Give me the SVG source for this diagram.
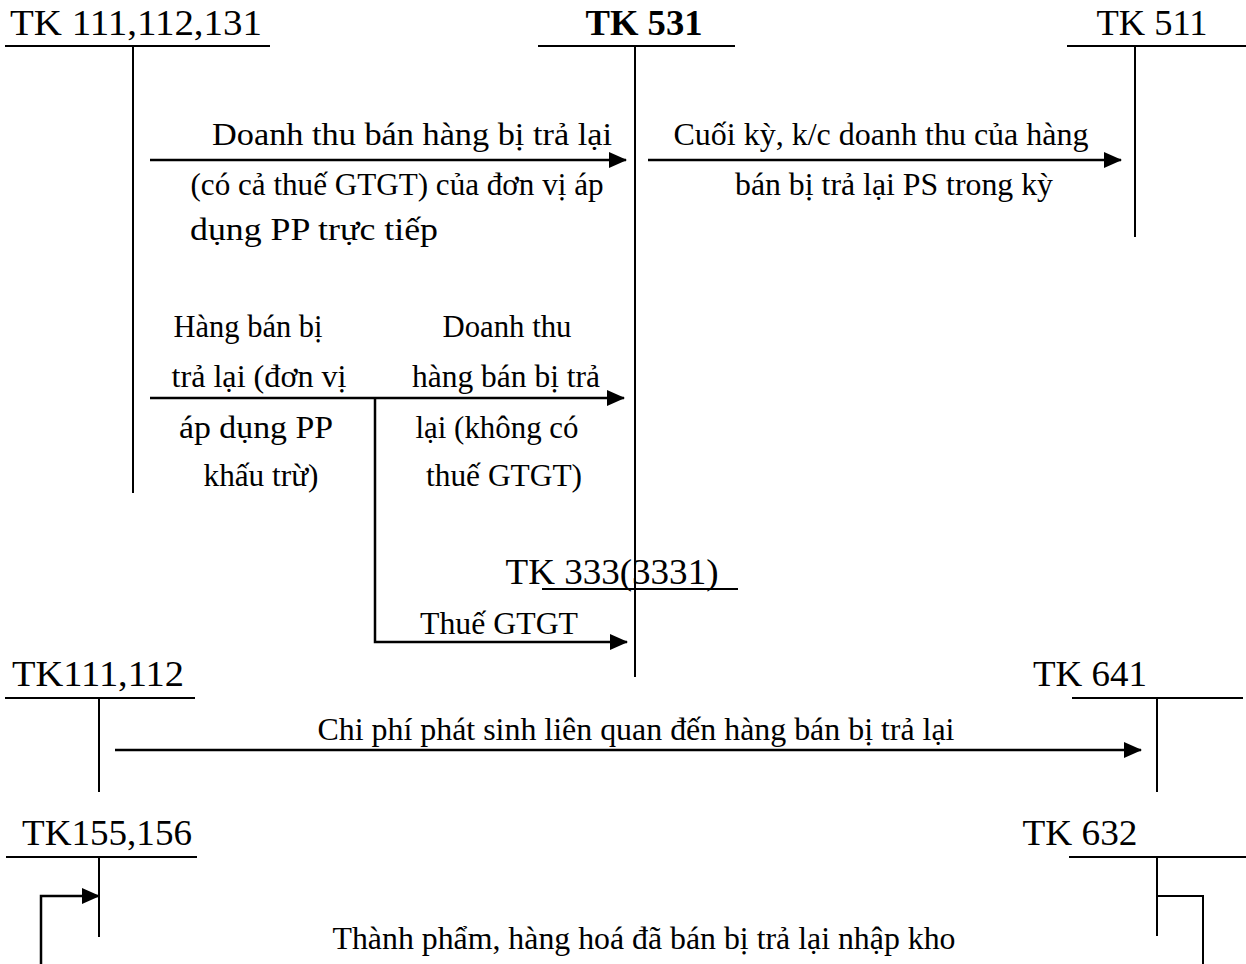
<svg xmlns="http://www.w3.org/2000/svg" width="1246" height="964" viewBox="0 0 1246 964">
<style>
text{font-family:"Liberation Serif","Times New Roman",serif;fill:#000;text-anchor:middle}
.t{font-size:36px}
.b{font-size:31px}
.tb{font-size:36px;font-weight:bold}
.ln{stroke:#000;stroke-width:2;fill:none}
.ar{stroke:#000;stroke-width:2.5;fill:none}
</style>
<defs>
<marker id="ah" markerUnits="userSpaceOnUse" markerWidth="18" markerHeight="16" refX="17" refY="8" orient="auto">
<path d="M0,0 L18,8 L0,16 Z" fill="#000"/>
</marker>
</defs>
<rect width="1246" height="964" fill="#fff"/>
<g id="tk111_112_131">
<line class="ln" x1="5" y1="46" x2="270" y2="46"/>
<line class="ln" x1="133" y1="46" x2="133" y2="493"/>
<text class="t" x="136" y="35" textLength="252" lengthAdjust="spacingAndGlyphs">TK 111,112,131</text>
</g>
<g id="tk531">
<line class="ln" x1="538" y1="46" x2="735" y2="46"/>
<line class="ln" x1="635" y1="46" x2="635" y2="677"/>
<text class="tb" x="644" y="35" textLength="117" lengthAdjust="spacingAndGlyphs">TK 531</text>
</g>
<g id="tk511">
<line class="ln" x1="1067" y1="46" x2="1246" y2="46"/>
<line class="ln" x1="1135" y1="46" x2="1135" y2="237"/>
<text class="t" x="1152" y="35" textLength="111" lengthAdjust="spacingAndGlyphs">TK 511</text>
</g>
<g id="tk333">
<line class="ln" x1="542" y1="589" x2="738" y2="589"/>
<text class="t" x="612" y="584" textLength="213" lengthAdjust="spacingAndGlyphs">TK 333(3331)</text>
</g>
<g id="tk111_112">
<line class="ln" x1="5" y1="698" x2="195" y2="698"/>
<line class="ln" x1="99" y1="698" x2="99" y2="792"/>
<text class="t" x="98" y="686" textLength="172" lengthAdjust="spacingAndGlyphs">TK111,112</text>
</g>
<g id="tk641">
<line class="ln" x1="1072" y1="698" x2="1243" y2="698"/>
<line class="ln" x1="1157" y1="698" x2="1157" y2="792"/>
<text class="t" x="1090" y="686" textLength="114" lengthAdjust="spacingAndGlyphs">TK 641</text>
</g>
<g id="tk155_156">
<line class="ln" x1="6" y1="857" x2="197" y2="857"/>
<line class="ln" x1="99" y1="857" x2="99" y2="937"/>
<text class="t" x="107" y="845" textLength="170" lengthAdjust="spacingAndGlyphs">TK155,156</text>
</g>
<g id="tk632">
<line class="ln" x1="1069" y1="857" x2="1246" y2="857"/>
<line class="ln" x1="1157" y1="857" x2="1157" y2="936"/>
<text class="t" x="1080" y="845" textLength="115" lengthAdjust="spacingAndGlyphs">TK 632</text>
</g>
<g id="connectors">
<line class="ar" x1="150" y1="160" x2="626" y2="160" marker-end="url(#ah)"/>
<line class="ar" x1="648" y1="160" x2="1121" y2="160" marker-end="url(#ah)"/>
<line class="ar" x1="150" y1="398" x2="624" y2="398" marker-end="url(#ah)"/>
<polyline class="ar" points="375,398 375,642 627,642" marker-end="url(#ah)"/>
<line class="ar" x1="115" y1="750" x2="1141" y2="750" marker-end="url(#ah)"/>
<polyline class="ln" points="1157,896 1203,896 1203,964"/>
<polyline class="ar" points="41,964 41,896 99,896" marker-end="url(#ah)"/>
</g>
<g id="labels">
<text class="b" x="412" y="145" textLength="400" lengthAdjust="spacingAndGlyphs">Doanh thu bán hàng bị trả lại</text>
<text class="b" x="397" y="195" textLength="413" lengthAdjust="spacingAndGlyphs">(có cả thuế GTGT) của đơn vị áp</text>
<text class="b" x="314" y="240" textLength="248" lengthAdjust="spacingAndGlyphs">dụng PP trực tiếp</text>
<text class="b" x="881" y="145" textLength="415" lengthAdjust="spacingAndGlyphs">Cuối kỳ, k/c doanh thu của hàng</text>
<text class="b" x="894" y="195" textLength="318" lengthAdjust="spacingAndGlyphs">bán bị trả lại PS trong kỳ</text>
<text class="b" x="248" y="337" textLength="149" lengthAdjust="spacingAndGlyphs">Hàng bán bị</text>
<text class="b" x="259" y="387" textLength="175" lengthAdjust="spacingAndGlyphs">trả lại (đơn vị</text>
<text class="b" x="256" y="438" textLength="154" lengthAdjust="spacingAndGlyphs">áp dụng PP</text>
<text class="b" x="261" y="486" textLength="115" lengthAdjust="spacingAndGlyphs">khấu trừ)</text>
<text class="b" x="507" y="337" textLength="129" lengthAdjust="spacingAndGlyphs">Doanh thu</text>
<text class="b" x="506" y="387" textLength="188" lengthAdjust="spacingAndGlyphs">hàng bán bị trả</text>
<text class="b" x="497" y="438" textLength="163" lengthAdjust="spacingAndGlyphs">lại (không có</text>
<text class="b" x="504" y="486" textLength="156" lengthAdjust="spacingAndGlyphs">thuế GTGT)</text>
<text class="b" x="499" y="634" textLength="158" lengthAdjust="spacingAndGlyphs">Thuế GTGT</text>
<text class="b" x="636" y="740" textLength="637" lengthAdjust="spacingAndGlyphs">Chi phí phát sinh liên quan đến hàng bán bị trả lại</text>
<text class="b" x="644" y="949" textLength="623" lengthAdjust="spacingAndGlyphs">Thành phẩm, hàng hoá đã bán bị trả lại nhập kho</text>
</g>
</svg>
